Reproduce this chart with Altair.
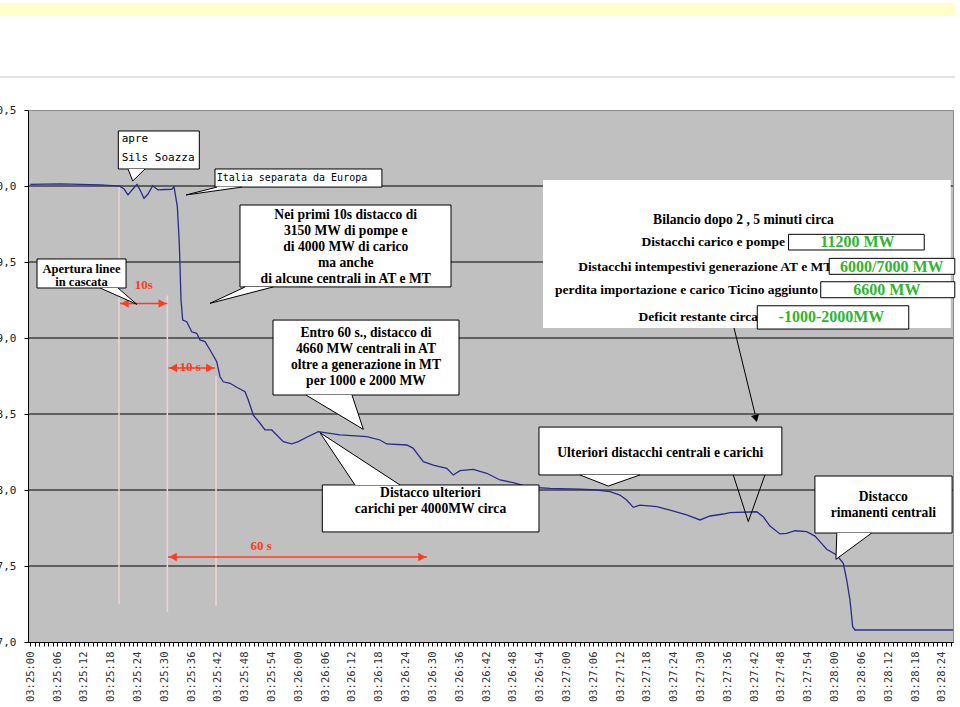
import altair as alt
import pandas as pd

# ---------------- frequency trace (seconds after 03:25:00, Hz) ----------------
time_s = [0, 6.67, 15.62, 20.09, 21.0, 21.88, 22.78, 23.9, 24.8, 25.46, 26.35, 27.41,
          28.59, 30.16, 31.66, 32.18, 32.92, 33.36, 33.74, 34.12, 35.02, 36.14, 37.26,
          38.0, 39.12, 40.24, 41.73, 42.47, 43.21, 44.71, 46.21, 48.07, 48.8, 49.92,
          51.42, 52.54, 54.04, 55.16, 56.63, 58.51, 59.99, 61.87, 64.47, 69.32, 75.3,
          78.27, 79.77, 84.25, 85.66, 87.96, 90.2, 93.2, 94.67, 96.17, 99.15, 102.15,
          105.13, 108.1, 111.84, 116.31, 123.03, 126.76, 129.74, 131.97, 133.47, 134.95,
          136.45, 140.19, 143.17, 146.9, 149.88, 152.12, 155.09, 156.59, 162.56, 164.04,
          165.54, 167.78, 169.28, 171.14, 173.75, 175.61, 176.73, 178.23, 180.47, 181.95,
          182.71, 183.45, 184.05, 184.57, 206.5]
freq_hz = [50.011, 50.014, 50.007, 49.999, 49.98, 49.941, 49.974, 50.011, 49.961, 49.919,
           49.947, 50.002, 49.974, 49.977, 49.978, 49.995, 49.864, 49.623, 49.25, 49.118,
           49.107, 49.041, 49.031, 48.987, 48.976, 48.921, 48.844, 48.745, 48.712, 48.702,
           48.676, 48.647, 48.592, 48.493, 48.439, 48.395, 48.395, 48.362, 48.318, 48.303,
           48.318, 48.347, 48.384, 48.362, 48.351, 48.329, 48.303, 48.296, 48.276, 48.186,
           48.164, 48.143, 48.099, 48.127, 48.136, 48.11, 48.066, 48.048, 48.018, 48.011,
           48.005, 48.0, 47.989, 47.967, 47.934, 47.886, 47.901, 47.89, 47.868, 47.836,
           47.803, 47.829, 47.842, 47.851, 47.857, 47.824, 47.763, 47.711, 47.715, 47.732,
           47.726, 47.697, 47.66, 47.61, 47.572, 47.518, 47.408, 47.276, 47.101, 47.079,
           47.079]

# ---------------- axes ----------------
x_tick_seconds = list(range(0, 207))
y_tick_hz = [47.0, 47.5, 48.0, 48.5, 49.0, 49.5, 50.0, 50.5]
grid_hz = [47.5, 48.0, 48.5, 49.0, 49.5, 50.0]

# ---------------- vertical marker lines (s, Hz top, Hz bottom) ----------------
marker_t = [19.87, 30.68, 41.58]
marker_top = [49.993, 49.28, 48.75]
marker_bottom = [47.25, 47.197, 47.237]

# ---------------- red duration arrows ----------------
arrow_t1 = [20.1, 30.9, 30.83]
arrow_t2 = [30.68, 41.35, 88.8]
arrow_f = [49.227, 48.803, 47.559]
head_t = [21.2, 29.56, 32.0, 40.2, 31.95, 87.67]
head_f = [49.227, 49.227, 48.803, 48.803, 47.559, 47.559]
head_shape = ["triangle-left", "triangle-right"] * 3
arrow_label = ["10s", "10 s", "60 s"]
arrow_label_t = [25.42, 35.8, 51.65]
arrow_label_f = [49.349, 48.809, 47.632]

# ---------------- callout boxes ----------------
box_id = ["apre", "italia", "apertura", "nei", "entro", "distult", "ulteriori", "rimanenti"]
box_t1 = [19.71, 41.35, 1.52, 46.94, 54.33, 65.36, 113.85, 175.6]
box_t2 = [37.84, 78.7, 21.44, 94.16, 95.95, 113.85, 168.2, 206.3]
box_f1 = [50.362, 50.112, 49.52, 49.875, 49.118, 48.033, 48.414, 48.092]
box_f2 = [50.112, 49.993, 49.329, 49.336, 48.625, 47.724, 48.099, 47.717]

# callout tails: base point, tip, base point
tail_t = [[21.88, 22.94, 25.69], [41.8, 34.86, 47.4], [15.62, 23.83, 19.65],
          [48.1, 40.23, 54.4], [61.7, 74.54, 72.0], [72.68, 64.85, 82.75],
          [123.0, 129.36, 136.45], [180.5, 180.3, 188.3]]
tail_f = [[50.112, 50.033, 50.112], [49.993, 49.941, 49.993], [49.329, 49.222, 49.329],
          [49.336, 49.228, 49.336], [48.625, 48.399, 48.625], [48.033, 48.377, 48.033],
          [48.099, 48.026, 48.099], [47.717, 47.544, 47.717]]

# sans labels (left aligned)
sans_text = ["apre", "Sils Soazza", "Italia separata da Europa"]
sans_t = [20.47, 20.47, 41.73]
sans_f = [50.307, 50.186, 50.053]
sans_size = [11, 11, 10]

# small two-line label
small_text = ["Apertura linee", "in cascata"]
small_t = [11.48, 11.48]
small_f = [49.452, 49.368]

# bold serif callout texts (centered)
serif_text = ["Nei primi 10s distacco di", "3150 MW di pompe e", "di  4000 MW di carico",
              "ma anche", "di alcune centrali in AT e MT",
              "Entro 60 s., distacco di", "4660 MW centrali in AT",
              "oltre a  generazione in MT", "per 1000 e 2000  MW",
              "Distacco ulteriori", "carichi per 4000MW circa",
              "Ulteriori distacchi centrali e carichi",
              "Distacco", "rimanenti centrali",
              "Bilancio dopo 2 , 5 minuti circa"]
serif_t = [70.6, 70.6, 70.6, 70.6, 70.6, 75.14, 75.14, 75.14, 75.14,
           89.57, 89.57, 141.0, 190.9, 190.9, 159.6]
serif_f = [49.809, 49.704, 49.597, 49.491, 49.386, 49.031, 48.926,
           48.822, 48.717, 47.978, 47.873, 48.245, 47.956, 47.851, 49.776]

# balance panel
panel_t = [114.75, 206.0]
panel_f = [50.039, 49.066]
row_text = ["Distacchi carico e pompe", "Distacchi intempestivi generazione AT e MT",
            "perdita importazione e  carico Ticino aggiunto", "Deficit restante circa"]
row_t = [168.9, 179.5, 176.3, 162.85]
row_f = [49.634, 49.469, 49.316, 49.14]
value_text = ["11200 MW", "6000/7000 MW", "6600 MW", "-1000-2000MW"]
value_t1 = [169.7, 178.8, 176.9, 162.7]
value_t2 = [200.06, 206.9, 206.9, 196.6]
value_f1 = [49.682, 49.524, 49.37, 49.212]
value_f2 = [49.579, 49.419, 49.265, 49.059]
value_tc = [185.1, 192.8, 191.7, 179.3]
value_fc = [49.632, 49.469, 49.316, 49.138]

# pointer lines
pointer_id = ["a", "a", "v", "v", "v"]
pointer_t = [157.5, 162.2, 157.33, 160.69, 164.42]
pointer_f = [49.066, 48.5, 48.099, 47.792, 48.099]
pointer_head_t = [162.4]
pointer_head_f = [48.47]

# ---------------- build ----------------
RED = "#ff3b1f"
GREEN = "#2fb52f"
xs = alt.Scale(domain=[-0.5, 206.5], nice=False, zero=False)
ys = alt.Scale(domain=[47.0, 50.5], nice=False, zero=False)

x_axis = alt.Axis(
    values=x_tick_seconds,
    labelExpr="datum.value % 6 == 0 ? '03:' + (25 + floor(datum.value / 60)) + ':' + "
              "(datum.value % 60 < 10 ? '0' : '') + (datum.value % 60) : ''",
    labelAngle=270, labelFont="DejaVu Sans Mono", labelFontSize=10.5,
    labelColor="#333333", labelPadding=5, tickSize=4, tickColor="black",
    domainColor="black", grid=False, title=None, labelOverlap=False, labelFlush=False,
)
y_axis = alt.Axis(
    values=y_tick_hz,
    labelExpr="replace(format(datum.value, '.1f'), '.', ',')",
    labelFont="DejaVu Sans Mono", labelFontSize=11, labelColor="#222222",
    labelPadding=8, tickSize=4, tickColor="black", domainColor="black",
    grid=False, title=None,
)


def X(f):
    return alt.X(f, type="quantitative", scale=xs, axis=x_axis)


def Y(f):
    return alt.Y(f, type="quantitative", scale=ys, axis=y_axis)


grid = alt.Chart(pd.DataFrame({"f": grid_hz})).mark_rule(color="black", strokeWidth=1).encode(
    y=Y("f"))

markers = alt.Chart(pd.DataFrame({"t": marker_t, "f1": marker_top, "f2": marker_bottom})).mark_rule(
    color="#f0d2d2", strokeWidth=1.5).encode(x=X("t"), y=Y("f1"), y2="f2")

arrows = alt.Chart(pd.DataFrame({"t1": arrow_t1, "t2": arrow_t2, "f": arrow_f})).mark_rule(
    color=RED, strokeWidth=1.5).encode(x=X("t1"), x2="t2", y=Y("f"))
heads = alt.Chart(pd.DataFrame({"t": head_t, "f": head_f, "s": head_shape})).mark_point(
    filled=True, color=RED, size=75, opacity=1).encode(
    x=X("t"), y=Y("f"), shape=alt.Shape("s:N", scale=None, legend=None))
arrow_labels = alt.Chart(pd.DataFrame({"t": arrow_label_t, "f": arrow_label_f, "txt": arrow_label})).mark_text(
    font="Liberation Serif", fontWeight="bold", fontSize=13, color=RED).encode(
    x=X("t"), y=Y("f"), text="txt:N")

curve = alt.Chart(pd.DataFrame({"t": time_s, "f": freq_hz})).mark_line(
    color="#2b2b8e", strokeWidth=1.3).encode(x=X("t"), y=Y("f"))

boxes = alt.Chart(pd.DataFrame({"id": box_id, "t1": box_t1, "t2": box_t2, "f1": box_f1, "f2": box_f2})).mark_rect(
    fill="white", stroke="black", strokeWidth=1).encode(x=X("t1"), x2="t2", y=Y("f1"), y2="f2")

tail_rows = []
for i, bid in enumerate(box_id):
    for k in range(3):
        tail_rows.append({"id": bid, "o": k, "t": tail_t[i][k], "f": tail_f[i][k]})
tails = alt.Chart(pd.DataFrame(tail_rows)).mark_line(
    fill="white", stroke="black", strokeWidth=1).encode(
    x=X("t"), y=Y("f"), detail="id:N", order="o:Q")

sans = alt.Chart(pd.DataFrame({"t": sans_t, "f": sans_f, "txt": sans_text, "s": sans_size})).mark_text(
    font="DejaVu Sans Mono", align="left", baseline="middle", color="black").encode(
    x=X("t"), y=Y("f"), text="txt:N", size=alt.Size("s:Q", scale=None, legend=None))

small = alt.Chart(pd.DataFrame({"t": small_t, "f": small_f, "txt": small_text})).mark_text(
    font="Liberation Serif", fontWeight="bold", fontSize=12.5, align="center", baseline="middle",
    color="black").encode(x=X("t"), y=Y("f"), text="txt:N")

panel = alt.Chart(pd.DataFrame({"t1": [panel_t[0]], "t2": [panel_t[1]], "f1": [panel_f[0]], "f2": [panel_f[1]]})).mark_rect(
    fill="white").encode(x=X("t1"), x2="t2", y=Y("f1"), y2="f2")

serif = alt.Chart(pd.DataFrame({"t": serif_t, "f": serif_f, "txt": serif_text})).mark_text(
    font="Liberation Serif", fontWeight="bold", fontSize=13.6, align="center", baseline="middle",
    color="black").encode(x=X("t"), y=Y("f"), text="txt:N")

rows = alt.Chart(pd.DataFrame({"t": row_t, "f": row_f, "txt": row_text})).mark_text(
    font="Liberation Serif", fontWeight="bold", fontSize=13.5, align="right", baseline="middle",
    color="black").encode(x=X("t"), y=Y("f"), text="txt:N")

vboxes = alt.Chart(pd.DataFrame({"t1": value_t1, "t2": value_t2, "f1": value_f1, "f2": value_f2})).mark_rect(
    fill="white", stroke="black", strokeWidth=1).encode(x=X("t1"), x2="t2", y=Y("f1"), y2="f2")
vtext = alt.Chart(pd.DataFrame({"t": value_tc, "f": value_fc, "txt": value_text})).mark_text(
    font="Liberation Serif", fontWeight="bold", fontSize=16, align="center", baseline="middle",
    color=GREEN).encode(x=X("t"), y=Y("f"), text="txt:N")

pointers = alt.Chart(pd.DataFrame({"id": pointer_id, "o": list(range(5)), "t": pointer_t, "f": pointer_f})).mark_line(
    color="black", strokeWidth=1).encode(x=X("t"), y=Y("f"), detail="id:N", order="o:Q")
phead = alt.Chart(pd.DataFrame({"t": pointer_head_t, "f": pointer_head_f})).mark_point(
    shape="triangle-down", filled=True, color="black", size=70, opacity=1, angle=346).encode(
    x=X("t"), y=Y("f"))

# page decoration (slide header band and separator)
deco = pd.DataFrame({"k": [0]})
band = alt.Chart(deco).mark_rect(color="#ffffcc").encode(
    x=alt.value(-28), x2=alt.value(927), y=alt.value(-107), y2=alt.value(-94))
sep = alt.Chart(deco).mark_rule(color="#c8c8c8", strokeWidth=1).encode(
    x=alt.value(-28), x2=alt.value(927), y=alt.value(-33))

chart = alt.layer(
    grid, band, sep, markers, arrows, heads, arrow_labels, curve,
    boxes, tails, sans, small, panel, serif, rows, vboxes, vtext, pointers, phead,
).properties(
    width=925, height=532,
    autosize=alt.AutoSizeParams(type="none"),
    padding={"left": 28, "top": 110, "right": 7, "bottom": 65},
    background="white",
).configure_view(fill="#c0c0c0", stroke="#8c8c8c", strokeWidth=1)

chart.save("out.html", embed_options={"renderer": "svg", "actions": False})
